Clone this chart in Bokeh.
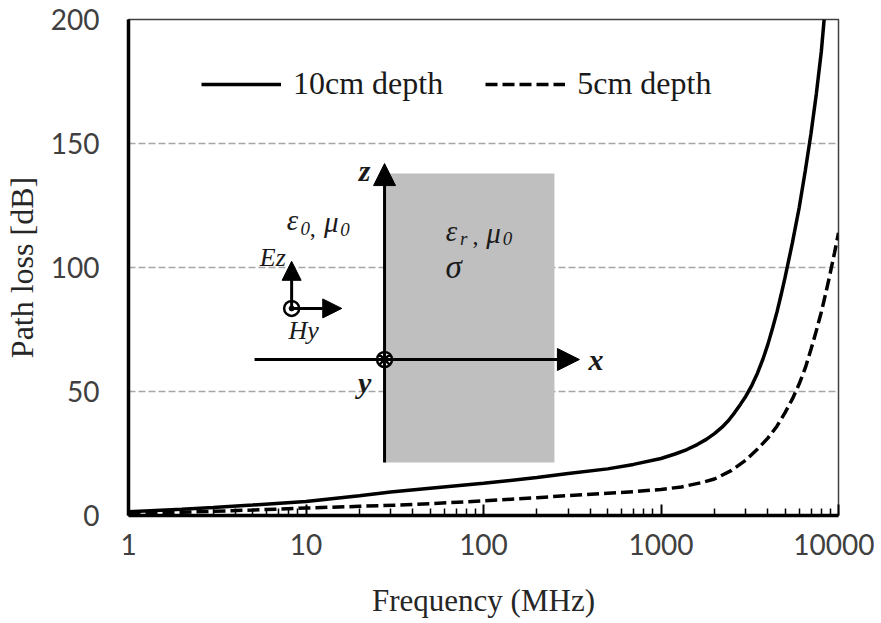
from bokeh.plotting import figure
from bokeh.models import FixedTicker, Arrow, NormalHead, Legend, LegendItem
from bokeh.core.properties import value
from bokeh.embed import file_html
from bokeh.resources import INLINE

# ---------------- data ----------------
freq_10cm = [1, 2, 3, 5, 10, 20, 30, 50, 100, 200, 300, 500, 700, 1000, 1200,
             1400, 1600, 1800, 2000, 2200, 2400, 2600, 2800, 3000, 3250, 3500,
             3750, 4000, 4250, 4500, 4750, 5000, 5500, 6000, 6500, 7000, 7500,
             8000, 8300]
loss_10cm = [1.5, 2.5, 3.2, 4.2, 5.6, 8.0, 9.5, 11.0, 13.0, 15.3, 16.9, 18.8,
             20.6, 23.0, 24.8, 26.6, 28.6, 30.7, 33.0, 35.5, 38.3, 41.5, 44.8,
             48.0, 52.5, 57.5, 63.0, 69.0, 75.5, 82.0, 89.0, 96.0, 110.0, 124.0,
             139.0, 154.0, 170.0, 187.0, 200.0]

freq_5cm = [1, 2, 3, 5, 10, 20, 40, 100, 200, 300, 500, 700, 1000, 1300, 1700,
            2000, 2500, 3000, 3500, 4000, 4500, 5000, 5500, 6000, 6500, 7000,
            7500, 8000, 8500, 9000, 9500, 10000]
loss_5cm = [0.8, 1.3, 1.7, 2.2, 3.0, 3.7, 4.4, 5.9, 7.2, 8.0, 9.0, 9.6, 10.5,
            11.5, 13.3, 14.7, 18.2, 22.3, 26.8, 31.2, 36.0, 41.5, 47.0, 53.0,
            59.5, 67.0, 74.5, 82.0, 90.0, 98.0, 106.0, 114.0]

series_labels = ["10cm depth", "5cm depth"]
x_ticks = [1, 10, 100, 1000, 10000]
x_tick_labels = ["1", "10", "100", "1000", "10000"]
y_ticks = [0, 50, 100, 150, 200]
y_tick_labels = ["0", "50", "100", "150", "200"]
grid_values = [50, 100, 150]

SERIF = "Liberation Serif"
SANS = "Lato"

p = figure(x_axis_type="log", x_range=(1, 10000), y_range=(0, 200),
           frame_width=710, frame_height=496,
           min_border_left=119, min_border_right=36,
           min_border_top=19, min_border_bottom=90,
           output_backend="svg", toolbar_location=None)
p.background_fill_color = "white"
p.border_fill_color = "white"
p.outline_line_color = "#404040"
p.outline_line_width = 1.5

# grid
p.xgrid.visible = False
p.ygrid.ticker = FixedTicker(ticks=grid_values)
p.ygrid.grid_line_color = "#a6a6a6"
p.ygrid.grid_line_dash = "7 3"
p.ygrid.grid_line_width = 1.3

# x axis
minor = [m * 10 ** d for d in range(4) for m in range(2, 10)]
xa = p.xaxis[0]
xa.ticker = FixedTicker(ticks=x_ticks, minor_ticks=minor)
xa.major_label_overrides = {t: l for t, l in zip(x_ticks, x_tick_labels)}
xa.axis_line_width = 3.5
xa.axis_line_color = "black"
xa.major_tick_in = 11
xa.major_tick_out = 0
xa.minor_tick_in = 7
xa.minor_tick_out = 0
xa.major_tick_line_width = 2
xa.minor_tick_line_width = 1.5
xa.major_tick_line_color = "black"
xa.minor_tick_line_color = "black"
xa.major_label_text_font = SANS
xa.major_label_text_font_size = "28px"
xa.major_label_text_color = "#404040"
xa.major_label_standoff = 18
xa.axis_label = "Frequency (MHz)"
xa.axis_label_text_font = SERIF
xa.axis_label_text_font_size = "31px"
xa.axis_label_text_font_style = "normal"
xa.axis_label_text_color = "#262626"
xa.axis_label_standoff = 25

# y axis
ya = p.yaxis[0]
ya.ticker = FixedTicker(ticks=y_ticks)
ya.major_label_overrides = {t: l for t, l in zip(y_ticks, y_tick_labels)}
ya.axis_line_width = 3.5
ya.axis_line_color = "black"
ya.major_tick_line_color = None
ya.minor_tick_line_color = None
ya.major_tick_in = 0
ya.major_tick_out = 0
ya.major_label_text_font = SANS
ya.major_label_text_font_size = "28px"
ya.major_label_text_color = "#404040"
ya.major_label_standoff = 29
ya.axis_label = "Path loss [dB]"
ya.axis_label_text_font = SERIF
ya.axis_label_text_font_size = "32px"
ya.axis_label_text_font_style = "normal"
ya.axis_label_text_color = "#262626"
ya.axis_label_standoff = 8

# ---------------- inset diagram (annotation, in data coordinates) ----------------
p.quad(left=27.7, right=251, bottom=21.4, top=137.9, fill_color="#bfbfbf",
       line_color=None)

def arrow(x0, y0, x1, y1, size):
    p.add_layout(Arrow(x_start=x0, y_start=y0, x_end=x1, y_end=y1,
                       line_width=3, line_color="black",
                       end=NormalHead(size=size, fill_color="black",
                                      line_color="black", line_width=1)))

arrow(27.7, 21.4, 27.7, 141.9, 22)      # z axis
arrow(5.13, 62.9, 347, 62.9, 22)        # x axis
arrow(8.3, 83.5, 8.3, 102.5, 19)        # Ez
arrow(8.3, 83.5, 15.9, 83.5, 19)        # Hy

p.scatter([27.7], [62.9], marker="circle_x", size=15, fill_color="white",
          line_color="black", line_width=2.5)
p.scatter([8.3], [83.5], marker="circle", size=15, fill_color="white",
          line_color="black", line_width=2.5)
p.scatter([8.3], [83.5], marker="circle", size=5, fill_color="black",
          line_color="black", line_width=1)

def txt(x, y, s, size, style="italic", align="center"):
    p.text(x=[x], y=[y], text=[s], text_font=value(SERIF),
           text_font_size=size, text_font_style=style, text_color="#1a1a1a",
           text_align=align, text_baseline="middle")

txt(21.4, 139.1, "z", "30px", "bold italic")
txt(430, 62.9, "x", "30px", "bold italic")
txt(21.4, 53.6, "y", "30px", "bold italic")
txt(6.5, 104.0, "Ez", "26px")
txt(9.7, 74.4, "Hy", "26px")
# eps0, mu0
txt(8.4, 119.0, "ε", "29px")
txt(9.9, 115.6, "0", "19px")
txt(10.9, 115.6, ",", "24px", "normal")
txt(13.9, 118.2, "μ", "29px")
txt(16.6, 115.4, "0", "19px")
# eps_r, mu0, sigma
txt(66.1, 114.9, "ε", "29px")
txt(77.4, 111.7, "r", "19px")
txt(90.0, 112.5, ",", "24px", "normal")
txt(113.9, 114.1, "μ", "29px")
txt(136.6, 111.7, "0", "19px")
txt(67.8, 100.4, "σ", "33px")

# ---------------- curves ----------------
r1 = p.line(freq_10cm, loss_10cm, line_color="black", line_width=3.5)
r2 = p.line(freq_5cm, loss_5cm, line_color="black", line_width=3.5,
            line_dash="12 5")

legend = Legend(items=[LegendItem(label=series_labels[0], renderers=[r1]),
                       LegendItem(label=series_labels[1], renderers=[r2])],
                orientation="horizontal", location=(73, 413))
legend.glyph_width = 80
legend.glyph_height = 30
legend.label_height = 30
legend.label_standoff = 12
legend.spacing = 42
legend.padding = 0
legend.margin = 0
legend.border_line_color = None
legend.background_fill_alpha = 0
legend.label_text_font = SERIF
legend.label_text_font_size = "32px"
legend.label_text_color = "#1a1a1a"
p.add_layout(legend, "center")

open("out.html", "w").write(file_html(p, INLINE))
